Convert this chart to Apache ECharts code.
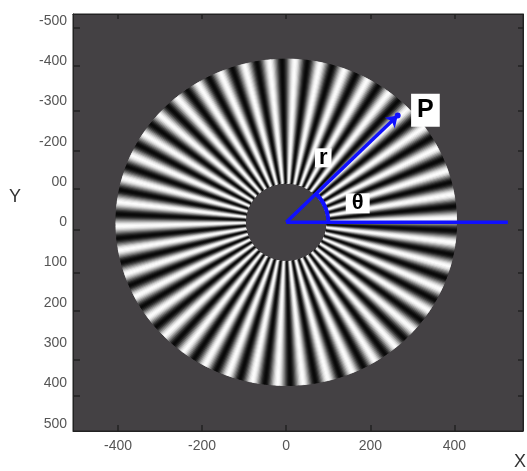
<!DOCTYPE html>
<html><head><meta charset="utf-8">
<script src="https://cdn.jsdelivr.net/npm/echarts@6/dist/echarts.min.js"></script>
<style>html,body{margin:0;padding:0;background:#fff}#c{width:527px;height:471px}</style>
</head><body><div id="c"></div>
<script>
// ---- axis ticks / labels ----
const xTickValues = [-400, -200, 0, 200, 400];
const xTickLabels = ['-400', '-200', '0', '200', '400'];
const yTickValues = [-500, -400, -300, -200, -100, 0, 100, 200, 300, 400, 500];
const yTickLabels = ['-500', '-400', '-300', '-200', '00', '0', '100', '200', '300', '400', '500'];
const yTickMarks = [-482, -388, -276, -177, -83, 19, 126, 220, 342, 431];

// ---- Siemens star parameters ----
const starCycles = 42;
const starInnerR = 97;
const starOuterR = 405;
const starPhaseDeg = 1.5;
const stepsPerCycle = 20;

// ---- annotation geometry ----
const originPt = [0, 0];
const pointP = [265, -265];
const baseLineEnd = [527, 0];
const arcRadius = 100;
const arcAnglesDeg = [0, 5, 10, 15, 20, 25, 30, 35, 40, 45];
const labelNames = ['P', 'r', 'θ'];
const labelPositions = [[331, -278], [88, -160], [170, -47]];

// build wedge list for the star pattern
const wedges = [];
const stepDeg = 360 / (starCycles * stepsPerCycle);
for (let i = 0; i < starCycles * stepsPerCycle; i++) {
  const a0 = i * stepDeg, a1 = a0 + stepDeg;
  const mid = (a0 + a1) / 2;
  const I = 0.5 + 0.5 * Math.cos(starCycles * (mid - starPhaseDeg) * Math.PI / 180);
  wedges.push([a0, a1, Math.round(8 + 245 * I)]);
}
const toXY = (r, a) => [r * Math.cos(a * Math.PI / 180), -r * Math.sin(a * Math.PI / 180)];
const arcData = arcAnglesDeg.map(a => toXY(arcRadius, a));

const blue = '#1010ff';
const chart = echarts.init(document.getElementById('c'), null, {renderer: 'canvas'});
const fmt = (vals, labels) => v => { const i = vals.indexOf(v); return i >= 0 ? labels[i] : ''; };
const axisFont = {color: '#555', fontSize: 14, fontFamily: 'Liberation Sans, Arial, sans-serif'};
const axLine = {show: true, onZero: false, lineStyle: {color: '#222', width: 1}};

chart.setOption({
  animation: false,
  backgroundColor: '#fff',
  grid: {left: 73, right: 4, top: 14, bottom: 40, show: true, backgroundColor: '#444144', borderColor: '#222', borderWidth: 1},
  xAxis: [{
    type: 'value', min: -507, max: 563, position: 'bottom',
    axisLine: axLine,
    axisTick: {show: true, inside: true, length: 6, customValues: xTickValues, lineStyle: {color: '#222', width: 1.5}},
    axisLabel: Object.assign({customValues: xTickValues, margin: 8, formatter: fmt(xTickValues, xTickLabels)}, axisFont),
    splitLine: {show: false}
  }, {
    type: 'value', min: -507, max: 563, position: 'top',
    axisLine: axLine,
    axisTick: {show: true, inside: true, length: 5, customValues: xTickValues, lineStyle: {color: '#222', width: 1.5}},
    axisLabel: {show: false}, splitLine: {show: false}
  }],
  yAxis: [{
    type: 'value', min: -517, max: 518, inverse: true, position: 'left',
    axisLine: axLine,
    axisTick: {show: true, inside: true, length: 7, customValues: yTickMarks, lineStyle: {color: '#222', width: 1.5}},
    axisLabel: Object.assign({customValues: yTickValues, margin: 6, formatter: fmt(yTickValues, yTickLabels)}, axisFont),
    splitLine: {show: false}
  }, {
    type: 'value', min: -517, max: 518, inverse: true, position: 'right',
    axisLine: axLine,
    axisTick: {show: true, inside: true, length: 5, customValues: yTickMarks, lineStyle: {color: '#222', width: 1.5}},
    axisLabel: {show: false}, splitLine: {show: false}
  }],
  graphic: [
    {type: 'text', x: 15, y: 197, style: {text: 'Y', fontSize: 18, fill: '#333', align: 'center', verticalAlign: 'middle', fontFamily: 'Liberation Sans, Arial, sans-serif'}},
    {type: 'text', x: 520, y: 462, style: {text: 'X', fontSize: 18, fill: '#333', align: 'center', verticalAlign: 'middle', fontFamily: 'Liberation Sans, Arial, sans-serif'}}
  ],
  series: [
    {
      type: 'custom', name: 'star', xAxisIndex: 0, yAxisIndex: 0,
      data: wedges, silent: true,
      encode: {x: -1, y: -1},
      renderItem: function (params, api) {
        const a0 = api.value(0), a1 = api.value(1) + stepDeg * 0.35, g = api.value(2);
        const am = (a0 + a1) / 2;
        const pts = [
          api.coord(toXY(starInnerR, a0)),
          api.coord(toXY(starOuterR, a0)),
          api.coord(toXY(starOuterR, am)),
          api.coord(toXY(starOuterR, a1)),
          api.coord(toXY(starInnerR, a1))
        ];
        const col = 'rgb(' + g + ',' + g + ',' + g + ')';
        return {type: 'polygon', shape: {points: pts}, style: {fill: col, stroke: col, lineWidth: 0.7}};
      }
    },
    {
      type: 'line', name: 'base', data: [originPt, baseLineEnd], showSymbol: false, symbol: 'none',
      lineStyle: {color: blue, width: 3.5}, silent: true, z: 5
    },
    {
      type: 'line', name: 'theta', data: arcData, showSymbol: false, symbol: 'none', smooth: true,
      lineStyle: {color: blue, width: 4}, silent: true, z: 5
    },
    {
      type: 'lines', coordinateSystem: 'cartesian2d', name: 'r',
      data: [{coords: [originPt, pointP]}],
      symbol: ['none', 'arrow'], symbolSize: 11,
      lineStyle: {color: blue, width: 3.5, opacity: 1, curveness: 0}, silent: true, z: 5
    },
    {
      type: 'scatter', name: 'P-dot', data: [pointP], symbolSize: 6,
      itemStyle: {color: blue, opacity: 1}, silent: true, z: 6
    },
    {
      type: 'scatter', name: 'labels', symbolSize: 0, silent: true, z: 10,
      itemStyle: {opacity: 1},
      data: labelNames.map((n, i) => ({
        name: n, value: labelPositions[i],
        label: n === 'P' ? {fontSize: 25, lineHeight: 26, padding: [4, 6, 3, 6]}
             : n === 'r' ? {fontSize: 22, lineHeight: 19, padding: [0, 4, 0, 4]}
             : {fontSize: 22, lineHeight: 20, padding: [0, 6, 0, 6]}
      })),
      label: {
        show: true, position: 'inside', formatter: '{b}', color: '#000', fontWeight: 'bold', opacity: 1,
        backgroundColor: '#fff', fontFamily: 'Liberation Sans, Arial, sans-serif'
      }
    }
  ]
});
</script>
</body></html>
